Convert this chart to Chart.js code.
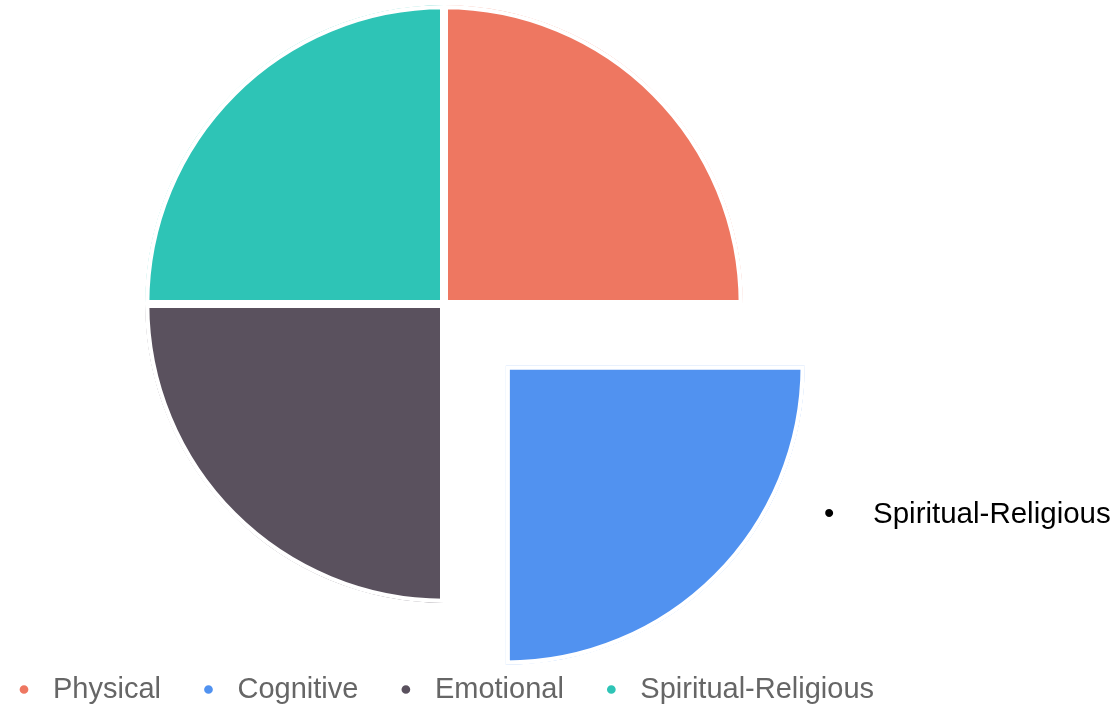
<!DOCTYPE html>
<html>
<head>
<meta charset="utf-8">
<script src="https://cdn.jsdelivr.net/npm/chart.js@4.4.1/dist/chart.umd.min.js"></script>
<style>
  html, body { margin: 0; padding: 0; background: #fff; overflow: hidden; }
  #wrap { position: relative; width: 1118px; height: 705px; overflow: hidden; }
  #box { position: absolute; left: -100px; top: 0; width: 1218px; height: 705px; }
  #note { position: absolute; left: 0; top: 498px; font-family: "Liberation Sans", Arial, Helvetica, sans-serif; font-size: 29.5px; line-height: 29px; color: #000; white-space: nowrap; }
  #note .b { position: absolute; left: 824px; }
  #note .t { position: absolute; left: 873px; }
</style>
</head>
<body>
<div id="wrap">
  <div id="box"><canvas id="c"></canvas></div>
  <div id="note"><span class="b">•</span><span class="t">Spiritual-Religious</span></div>
</div>
<script>
const categories = ["Physical", "Cognitive", "Emotional", "Spiritual-Religious"];
const values = [25, 25, 25, 25];
const sliceOffsets = [0, 350, 0, 0];
const colors = ["#EE7761", "#5192F0", "#5A515E", "#2EC4B6"];

new Chart(document.getElementById("c"), {
  type: "pie",
  data: {
    labels: categories,
    datasets: [{
      data: values,
      backgroundColor: colors,
      borderColor: "#ffffff",
      borderWidth: 4,
      borderAlign: "inner",
      offset: sliceOffsets,
      hoverOffset: 0
    }]
  },
  options: {
    responsive: true,
    maintainAspectRatio: false,
    animation: false,
    events: [],
    radius: 299,
    layout: { padding: { left: 76.5, right: 206.5, top: 0, bottom: -9 } },
    plugins: {
      tooltip: { enabled: false },
      legend: {
        display: true,
        position: "bottom",
        align: "start",
        title: { display: true, text: "", font: { size: 10, lineHeight: 1 }, padding: { top: 24, bottom: 0 } },
        labels: {
          usePointStyle: true,
          pointStyle: "circle",
          boxWidth: 29,
          boxHeight: 9,
          padding: 33,
          color: "#666666",
          font: { family: "'Liberation Sans', Arial, Helvetica, sans-serif", size: 29 }
        }
      }
    }
  }
});
</script>
</body>
</html>
